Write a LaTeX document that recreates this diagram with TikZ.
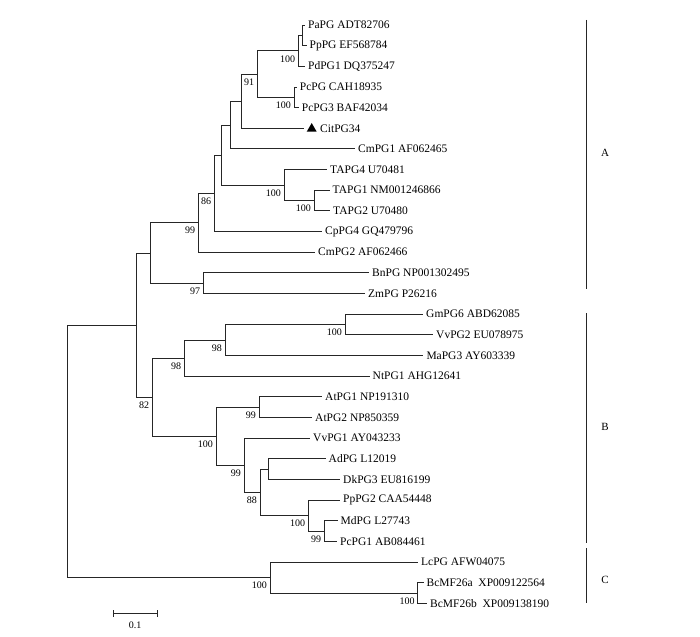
\documentclass[tikz,border=0pt]{standalone}
\usepackage{fontspec}
\setmainfont{Liberation Serif}
\usetikzlibrary{shapes.geometric}
\begin{document}
\begin{tikzpicture}[x=1pt,y=-1pt,
  br/.style={draw=black!85, line width=0.8pt},
  leaf/.style={anchor=west, inner xsep=3pt, inner ysep=1pt, font=\fontsize{11.5}{13}\selectfont},
  bs/.style={anchor=east, inner sep=0pt, font=\fontsize{10}{12}\selectfont},
  clade/.style={font=\fontsize{11}{13}\selectfont, inner sep=0pt},
  tri/.style={regular polygon, regular polygon sides=3, fill=black, inner sep=0pt, minimum size=11.5pt}]
\useasboundingbox (0,0) rectangle (700,636);
% leaves
\node[leaf] (Pa) at (305,25) {PaPG ADT82706};
\node[leaf] (Pp) at (306.5,45.65) {PpPG EF568784};
\node[leaf] (Pd) at (305,66.3) {PdPG1 DQ375247};
\node[leaf] (Pc) at (296.7,86.95) {PcPG CAH18935};
\node[leaf] (Pc3) at (298.7,107.6) {PcPG3 BAF42034};
\coordinate (citend) at (304,128.25);
\node[tri] (cittri) at (311.7,128.8) {};
\node[leaf] (Cit) at (317,128.25) {CitPG34};
\node[leaf] (Cm1) at (355,148.9) {CmPG1 AF062465};
\node[leaf] (TA4) at (327,169.55) {TAPG4 U70481};
\node[leaf] (TA1) at (329.5,190.2) {TAPG1 NM001246866};
\node[leaf] (TA2) at (330,210.85) {TAPG2 U70480};
\node[leaf] (Cp4) at (322,231.5) {CpPG4 GQ479796};
\node[leaf] (Cm2) at (315,252.15) {CmPG2 AF062466};
\node[leaf] (Bn) at (369,272.8) {BnPG NP001302495};
\node[leaf] (Zm) at (365,293.45) {ZmPG P26216};
\node[leaf] (Gm) at (423,314.1) {GmPG6 ABD62085};
\node[leaf] (Vv2) at (433,334.75) {VvPG2 EU078975};
\node[leaf] (Ma) at (423.3,355.4) {MaPG3 AY603339};
\node[leaf] (Nt) at (369.5,376.05) {NtPG1 AHG12641};
\node[leaf] (At1) at (322,396.7) {AtPG1 NP191310};
\node[leaf] (At2) at (312,417.35) {AtPG2 NP850359};
\node[leaf] (Vv1) at (310,438) {VvPG1 AY043233};
\node[leaf] (Ad) at (325.5,458.65) {AdPG L12019};
\node[leaf] (Dk) at (340,479.3) {DkPG3 EU816199};
\node[leaf] (Pp2) at (340,499.95) {PpPG2 CAA54448};
\node[leaf] (Md) at (337.5,520.6) {MdPG L27743};
\node[leaf] (Pc1) at (337,541.25) {PcPG1 AB084461};
\node[leaf] (Lc) at (418,561.9) {LcPG AFW04075};
\node[leaf] (Bca) at (423.5,582.55) {BcMF26a\ \ XP009122564};
\node[leaf] (Bcb) at (427,603.2) {BcMF26b\ \ XP009138190};
% internal nodes
\coordinate (nPaPp) at (302.7,35.3);
\coordinate (nPd) at (298.3,50.8);
\coordinate (nPc) at (294,97.3);
\coordinate (n91) at (257.3,74);
\coordinate (nCit) at (241.7,101.1);
\coordinate (nCm1) at (230,125);
\coordinate (nTA12) at (314,200.5);
\coordinate (nTA) at (284,185);
\coordinate (nX) at (221.7,155);
\coordinate (n86) at (214.3,193.25);
\coordinate (n99) at (198.3,222.7);
\coordinate (nBZ) at (203.3,283.1);
\coordinate (nA) at (150,252.9);
\coordinate (nGV) at (345,324.4);
\coordinate (n98b) at (225,339.9);
\coordinate (n98a) at (184.3,358);
\coordinate (nAt) at (259,407);
\coordinate (nAD) at (268.3,469);
\coordinate (nMP) at (324.3,530.9);
\coordinate (nPMP) at (308.3,515.4);
\coordinate (n88) at (260,492.2);
\coordinate (n99c) at (244,465.1);
\coordinate (n100) at (216,436.1);
\coordinate (n82) at (152.3,397);
\coordinate (nAB) at (136,325);
\coordinate (nBc) at (417.7,592.9);
\coordinate (nC) at (270,577.4);
\coordinate (root) at (67.3,451.2);
% branches
\draw[br] (nPaPp) |- (Pa.west); \draw[br] (nPaPp) |- (Pp.west);
\draw[br] (nPd) |- (nPaPp); \draw[br] (nPd) |- (Pd.west);
\draw[br] (nPc) |- (Pc.west); \draw[br] (nPc) |- (Pc3.west);
\draw[br] (n91) |- (nPd); \draw[br] (n91) |- (nPc);
\draw[br] (nCit) |- (n91); \draw[br] (nCit) |- (citend);
\draw[br] (nCm1) |- (nCit); \draw[br] (nCm1) |- (Cm1.west);
\draw[br] (nTA12) |- (TA1.west); \draw[br] (nTA12) |- (TA2.west);
\draw[br] (nTA) |- (TA4.west); \draw[br] (nTA) |- (nTA12);
\draw[br] (nX) |- (nCm1); \draw[br] (nX) |- (nTA);
\draw[br] (n86) |- (nX); \draw[br] (n86) |- (Cp4.west);
\draw[br] (n99) |- (n86); \draw[br] (n99) |- (Cm2.west);
\draw[br] (nBZ) |- (Bn.west); \draw[br] (nBZ) |- (Zm.west);
\draw[br] (nA) |- (n99); \draw[br] (nA) |- (nBZ);
\draw[br] (nGV) |- (Gm.west); \draw[br] (nGV) |- (Vv2.west);
\draw[br] (n98b) |- (nGV); \draw[br] (n98b) |- (Ma.west);
\draw[br] (n98a) |- (n98b); \draw[br] (n98a) |- (Nt.west);
\draw[br] (nAt) |- (At1.west); \draw[br] (nAt) |- (At2.west);
\draw[br] (nAD) |- (Ad.west); \draw[br] (nAD) |- (Dk.west);
\draw[br] (nMP) |- (Md.west); \draw[br] (nMP) |- (Pc1.west);
\draw[br] (nPMP) |- (Pp2.west); \draw[br] (nPMP) |- (nMP);
\draw[br] (n88) |- (nAD); \draw[br] (n88) |- (nPMP);
\draw[br] (n99c) |- (Vv1.west); \draw[br] (n99c) |- (n88);
\draw[br] (n100) |- (nAt); \draw[br] (n100) |- (n99c);
\draw[br] (n82) |- (n98a); \draw[br] (n82) |- (n100);
\draw[br] (nAB) |- (nA); \draw[br] (nAB) |- (n82);
\draw[br] (nBc) |- (Bca.west); \draw[br] (nBc) |- (Bcb.west);
\draw[br] (nC) |- (Lc.west); \draw[br] (nC) |- (nBc);
\draw[br] (root) |- (nAB); \draw[br] (root) |- (nC);
% bootstrap values
\node[bs] (bPd) at ([shift={(-3,8)}]nPd) {100};
\node[bs] (bPc) at ([shift={(-3,8)}]nPc) {100};
\node[bs] (b91) at ([shift={(-3,8)}]n91) {91};
\node[bs] (bTA12) at ([shift={(-3,8)}]nTA12) {100};
\node[bs] (bTA) at ([shift={(-3,8)}]nTA) {100};
\node[bs] (b86) at ([shift={(-3,8)}]n86) {86};
\node[bs] (b99) at ([shift={(-3,8)}]n99) {99};
\node[bs] (bBZ) at ([shift={(-3,8)}]nBZ) {97};
\node[bs] (bGV) at ([shift={(-3,8)}]nGV) {100};
\node[bs] (b98b) at ([shift={(-3,8)}]n98b) {98};
\node[bs] (b98a) at ([shift={(-3,8)}]n98a) {98};
\node[bs] (bAt) at ([shift={(-3,8)}]nAt) {99};
\node[bs] (bMP) at ([shift={(-3,8)}]nMP) {99};
\node[bs] (bPMP) at ([shift={(-3,8)}]nPMP) {100};
\node[bs] (b88) at ([shift={(-3,8)}]n88) {88};
\node[bs] (b99c) at ([shift={(-3,8)}]n99c) {99};
\node[bs] (b100) at ([shift={(-3,8)}]n100) {100};
\node[bs] (b82) at ([shift={(-3,8)}]n82) {82};
\node[bs] (bBc) at ([shift={(-3,8)}]nBc) {100};
\node[bs] (bC) at ([shift={(-3,8)}]nC) {100};
% clade bars
\coordinate (Atop) at (586,20); \coordinate (Abot) at (586,289);
\coordinate (Btop) at (586,313); \coordinate (Bbot) at (586,543);
\coordinate (Ctop) at (586,548); \coordinate (Cbot) at (586,603);
\draw[br] (Atop) -- (Abot);
\draw[br] (Btop) -- (Bbot);
\draw[br] (Ctop) -- (Cbot);
\node[clade] (LA) at (605,153) {A};
\node[clade] (LB) at (605,427) {B};
\node[clade] (LC) at (605,580) {C};
% scale bar
\coordinate (sb1) at (113.3,613.3); \coordinate (sb2) at (157.3,613.3);
\draw[br] (sb1) -- (sb2);
\draw[br] ([yshift=3.3pt]sb1) -- ([yshift=-3.3pt]sb1);
\draw[br] ([yshift=3.3pt]sb2) -- ([yshift=-3.3pt]sb2);
\node[bs, anchor=center] (sbl) at (135,625) {0.1};
\end{tikzpicture}
\end{document}
